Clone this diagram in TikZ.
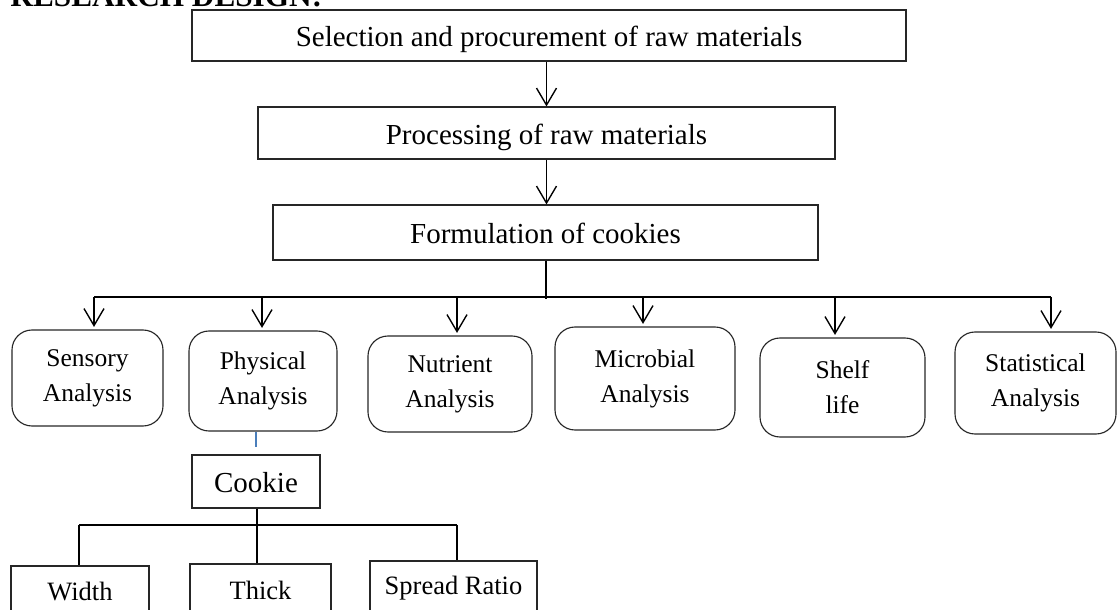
\documentclass[tikz,border=0pt]{standalone}
\usepackage{fontspec}
\setmainfont{Liberation Serif}
\usetikzlibrary{arrows.meta}
\newdimen\pxu
\pxu=0.4pt
\definecolor{linkblue}{HTML}{4A7EBB}
\tikzset{
    stepbox/.style={rectangle,draw=black!85,line width=0.45pt,inner sep=0,align=center,
        text height=0.9em,text depth=0pt,font=\fontsize{11.6}{14}\selectfont},
    testbox/.style={rectangle,rounded corners=8pt,draw=black!85,line width=0.45pt,inner sep=0,
        align=center,font=\fontsize{10.2}{14}\selectfont},
    partbox/.style={rectangle,draw=black!85,line width=0.45pt,inner sep=0,align=center,
        font=\fontsize{10.6}{13}\selectfont},
    dims/.style 2 args={minimum width=#1\pxu,minimum height=#2\pxu},
    flow/.style={line width=0.55pt,-{Straight Barb[length=6.8pt,width=8pt]}},
    bus/.style={line width=0.8pt},
    link/.style={draw=linkblue,line width=0.6pt}
}
\begin{document}
\begin{tikzpicture}[x=0.4pt,y=-0.4pt]
    \useasboundingbox (0,0) rectangle (1118,610);
    \clip (0,0) rectangle (1118,610);
    \node[anchor=base west,inner sep=0,font=\fontsize{12.5}{15}\bfseries] (title) at (10,7) {RESEARCH DESIGN:};
    \node[stepbox,dims={714}{51}] (select) at (549,35.5) {Selection and procurement of raw materials};
    \node[stepbox,dims={577}{52}] (process) at (546.5,133) {Processing of raw materials};
    \node[stepbox,dims={545}{55}] (formul) at (545.5,232.5) {Formulation of cookies};
    \node[testbox,dims={151}{96}] (sensory) at (87.5,378) {Sensory\\Analysis};
    \node[testbox,dims={148}{100}] (physical) at (263,381) {Physical\\Analysis};
    \node[testbox,dims={164}{96}] (nutrient) at (450,384) {Nutrient\\Analysis};
    \node[testbox,dims={180}{103}] (microbial) at (645,378.5) {Microbial\\Analysis};
    \node[testbox,dims={165}{99}] (shelf) at (842.5,387.5) {Shelf\\life};
    \node[testbox,dims={161}{102}] (statistic) at (1035.5,383) {Statistical\\Analysis};
    \node[stepbox,dims={128}{53}] (cookie) at (256,481.5) {Cookie};
    \node[partbox,dims={138}{52}] (width) at (80,592) {Width};
    \node[partbox,dims={141}{52}] (thick) at (260.5,590) {Thick};
    \node[partbox,dims={167}{54}] (spread) at (453.5,588) {Spread Ratio};

    \draw[flow] (process.north |- select.south) -- (process.north);
    \draw[flow] (process.south) -- (process.south |- formul.north);
    \coordinate (hub) at (545.5,297);
    \draw[bus] (formul.south) -- ([yshift=-1pt]hub);
    \draw[bus] (94,297) -- (1051,297);
    \foreach \x/\tgt in {94/sensory,262/physical,457/nutrient,643/microbial,835/shelf,1051/statistic}
        \draw[flow,shorten >=1pt] (\x,297) -- (\x,297 |- \tgt.north);

    \draw[link,shorten >=7\pxu] (cookie.north |- physical.south) -- (cookie.north);
    \coordinate (split) at (257,525);
    \draw[bus] (cookie.south -| split) -- (split);
    \draw[bus] (79,525) -- (457,525);
    \draw[bus] (79,525) -- (79,525 |- width.north);
    \draw[bus] (split) -- (split |- thick.north);
    \draw[bus] (457,525) -- (457,525 |- spread.north);
\end{tikzpicture}
\end{document}
